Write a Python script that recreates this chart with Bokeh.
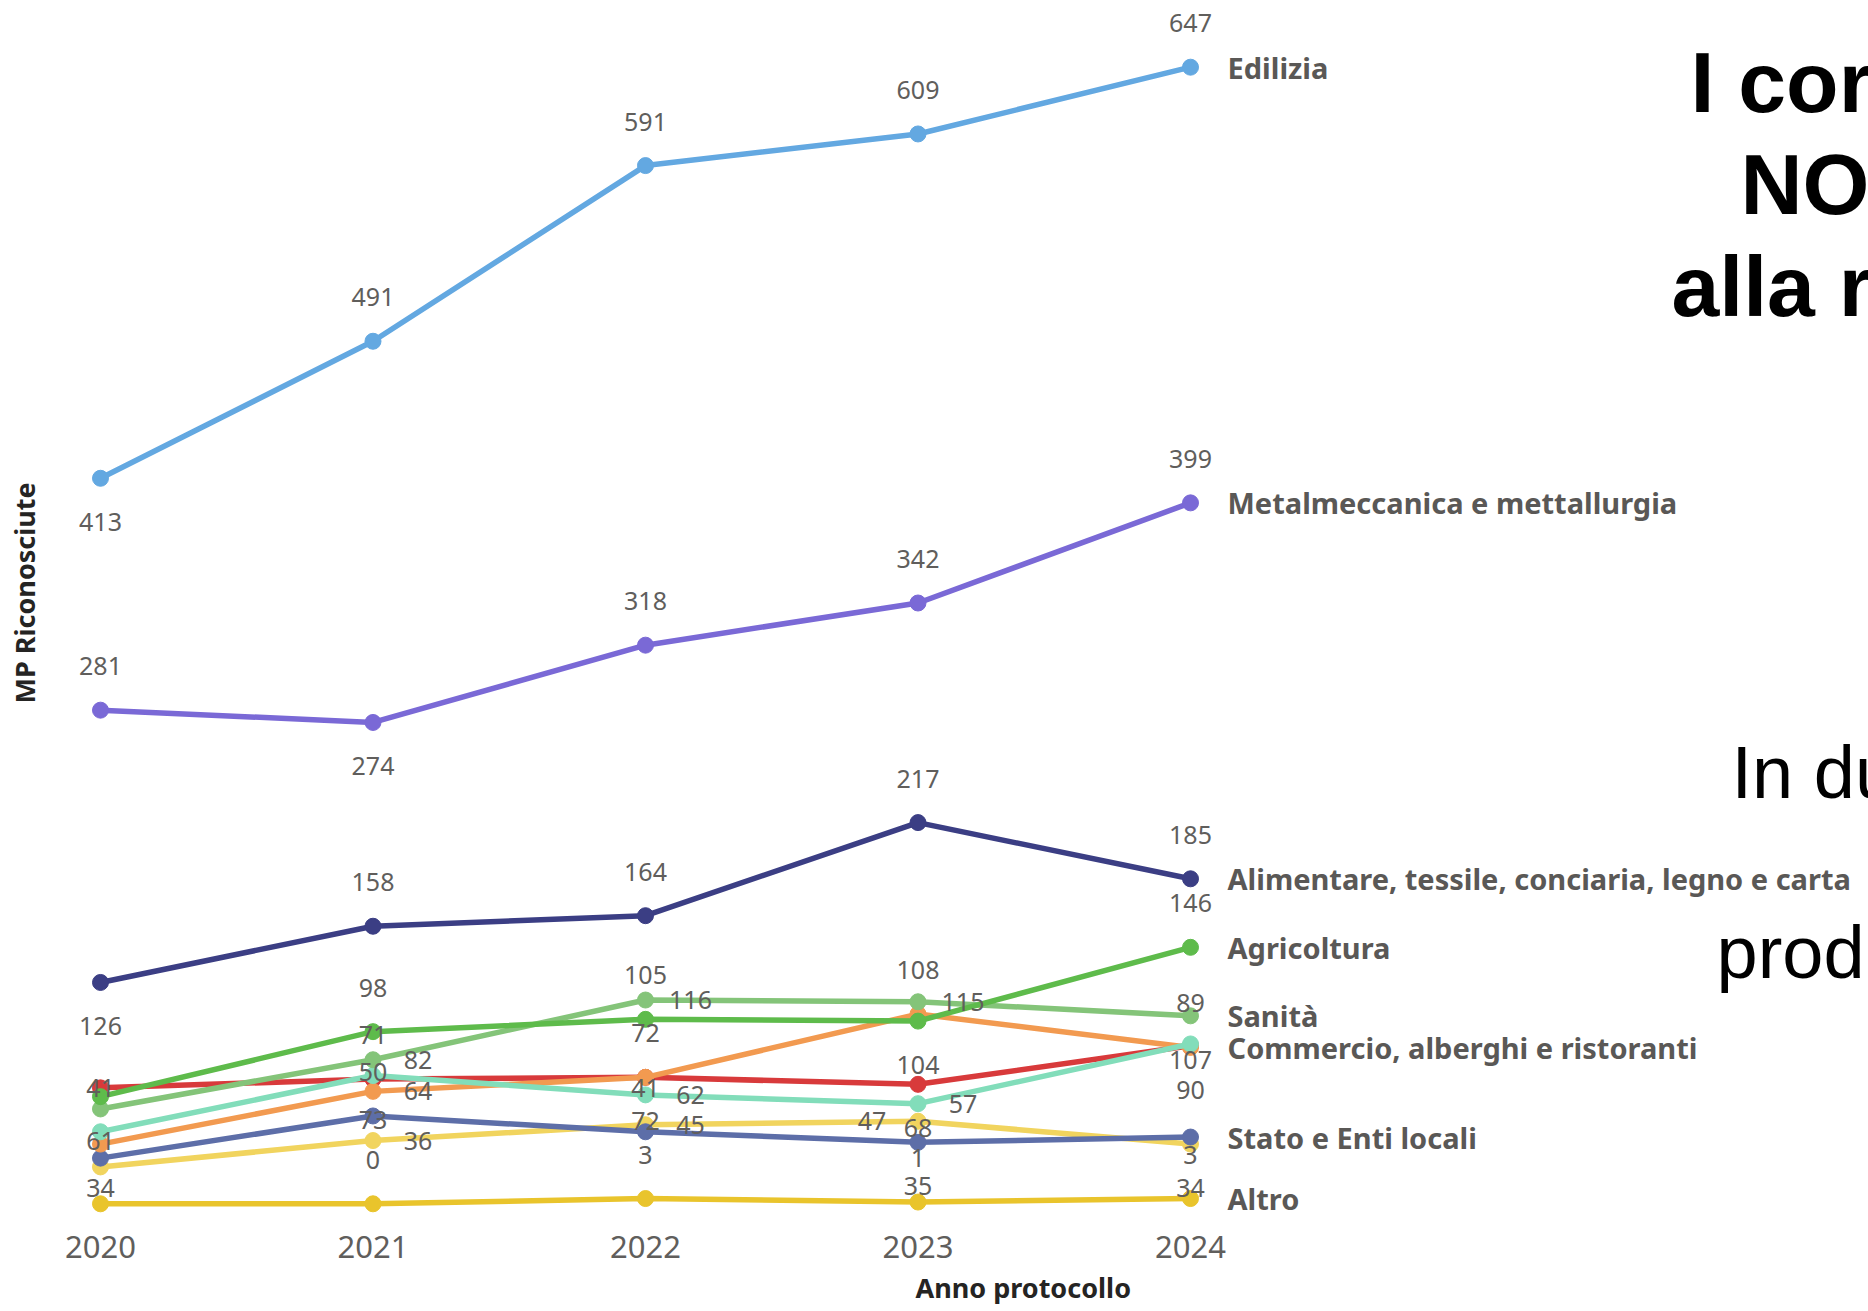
from bokeh.plotting import figure
from bokeh.models import ColumnDataSource, Label, FixedTicker, Range1d, Title
from bokeh.core.properties import value
from bokeh.embed import file_html
from bokeh.resources import INLINE

# ---------------- data ----------------
years = [2020, 2021, 2022, 2023, 2024]

edilizia = [413, 491, 591, 609, 647]
metalmeccanica = [281, 274, 318, 342, 399]
alimentare = [126, 158, 164, 217, 185]
agricoltura = [61, 98, 105, 104, 146]
sanita = [54, 82, 116, 115, 107]
commercio = [34, 64, 72, 108, 89]
serie_rossa = [66, 71, 72, 68, 90]
serie_turchese = [41, 73, 62, 57, 91]
stato = [26, 50, 41, 35, 38]
serie_gialla = [21, 36, 45, 47, 34]
altro = [0, 0, 3, 1, 3]

names = {
    "edilizia": "Edilizia",
    "metalmeccanica": "Metalmeccanica e mettallurgia",
    "alimentare": "Alimentare, tessile, conciaria, legno e carta",
    "agricoltura": "Agricoltura",
    "sanita": "Sanità",
    "commercio": "Commercio, alberghi e ristoranti",
    "stato": "Stato e Enti locali",
    "altro": "Altro",
}

# ---------------- styles ----------------
# drawing order, colour, label placement per year (a=above, b=below, r=right, l=left, None=hidden)
series = [
    ("altro", altro, "#E9C42C", [None, "a", "a", "a", "a"]),
    ("serie_gialla", serie_gialla, "#F1D45E", [None, "r", "r", "l", "b"]),
    ("stato", stato, "#5D6EA8", [None, "a", "a", "b", None]),
    ("serie_rossa", serie_rossa, "#D83A3B", [None, "a", "b", "b", "b"]),
    ("commercio", commercio, "#F29A50", ["b", "r", "a", "a", "a"]),
    ("serie_turchese", serie_turchese, "#82DDBA", ["a", "b", "r", "r", None]),
    ("sanita", sanita, "#84C479", [None, "r", "r", "r", "b"]),
    ("agricoltura", agricoltura, "#5EBB4B", ["b", "a", "a", "b", "a"]),
    ("alimentare", alimentare, "#3B3E84", ["b", "a", "a", "a", "a"]),
    ("metalmeccanica", metalmeccanica, "#7A69D6", ["a", "b", "a", "a", "a"]),
    ("edilizia", edilizia, "#63A8E1", ["b", "a", "a", "a", "a"]),
]
OFFS = {"a": (0, -44), "b": (0, 44), "r": (45, 0), "l": (-46, 0)}

W, H = 1868, 1311
FL, FB = 48, 86
FH = H - FB
x0, x1 = 2019.8092, 2026.488
y0, y1 = -12.35, 684.97


def px_x(px):
    return x0 + (px - FL) * (x1 - x0) / (W - FL)


def px_y(py):
    return y1 - py * (y1 - y0) / FH


p = figure(width=W, height=H, output_backend="svg", toolbar_location=None,
           x_range=Range1d(x0, x1), y_range=Range1d(y0, y1),
           min_border_left=FL, min_border_right=0, min_border_top=0,
           min_border_bottom=FB, y_axis_location=None,
           outline_line_color=None, background_fill_color="white",
           border_fill_color="white")
p.grid.visible = False

xa = p.xaxis[0]
xa.ticker = FixedTicker(ticks=years)
xa.major_label_text_font = "Noto Sans"
xa.major_label_text_font_size = "31px"
xa.major_label_text_color = "#605E5C"
xa.axis_line_color = None
xa.major_tick_line_color = None
xa.minor_tick_line_color = None
xa.major_label_standoff = 4

# axis titles
p.add_layout(Title(text="Anno protocollo", align="left", offset=867, standoff=12,
                   text_font="Noto Sans", text_font_style="bold",
                   text_font_size="27px", text_color="#252423"), "below")
p.add_layout(Title(text="MP Riconosciute", align="left", offset=522, standoff=8,
                   vertical_align="top",
                   text_font="Noto Sans", text_font_style="bold",
                   text_font_size="27px", text_color="#252423"), "left")

lab_x, lab_y, lab_t, lab_dx, lab_dy = [], [], [], [], []
end_x, end_y, end_t = [], [], []

for key, vals, col, place in series:
    src = ColumnDataSource(dict(x=years, y=vals))
    p.line("x", "y", source=src, line_color=col, line_width=5.5)
    p.scatter("x", "y", source=src, size=16, fill_color=col, line_color=col)
    for yr, v, pl in zip(years, vals, place):
        if pl is None:
            continue
        ox, oy = OFFS[pl]
        lab_x.append(yr)
        lab_y.append(v)
        lab_t.append(str(v))
        lab_dx.append(ox)
        lab_dy.append(oy)
    if key in names:
        end_x.append(years[-1])
        end_y.append(vals[-1])
        end_t.append(names[key])

lsrc = ColumnDataSource(dict(x=lab_x, y=lab_y, t=lab_t, dx=lab_dx, dy=lab_dy))
p.text("x", "y", text="t", source=lsrc, x_offset="dx", y_offset="dy",
       text_align="center", text_baseline="middle",
       text_font=value("Noto Sans"), text_font_size="25px", text_color="#605E5C")

esrc = ColumnDataSource(dict(x=end_x, y=end_y, t=end_t))
p.text("x", "y", text="t", source=esrc, x_offset=37,
       text_align="left", text_baseline="middle",
       text_font=value("Noto Sans"), text_font_style="bold",
       text_font_size="29px", text_color="#5A5856")

# slide text partially visible on the right
for txt, lx, ly, style, size in [
    ("I cor", 1690, 81, "bold", "86px"),
    ("NO", 1740, 183, "bold", "86px"),
    ("alla r", 1671, 285, "bold", "86px"),
    ("In du", 1731, 772, "normal", "74px"),
    ("prod", 1716, 952, "normal", "74px"),
]:
    p.add_layout(Label(x=px_x(lx), y=px_y(ly), text=txt, text_align="left",
                       text_baseline="alphabetic", text_font="Liberation Sans",
                       text_font_style=style, text_font_size=size,
                       text_color="#000000"))

open("out.html", "w").write(file_html(p, INLINE))
